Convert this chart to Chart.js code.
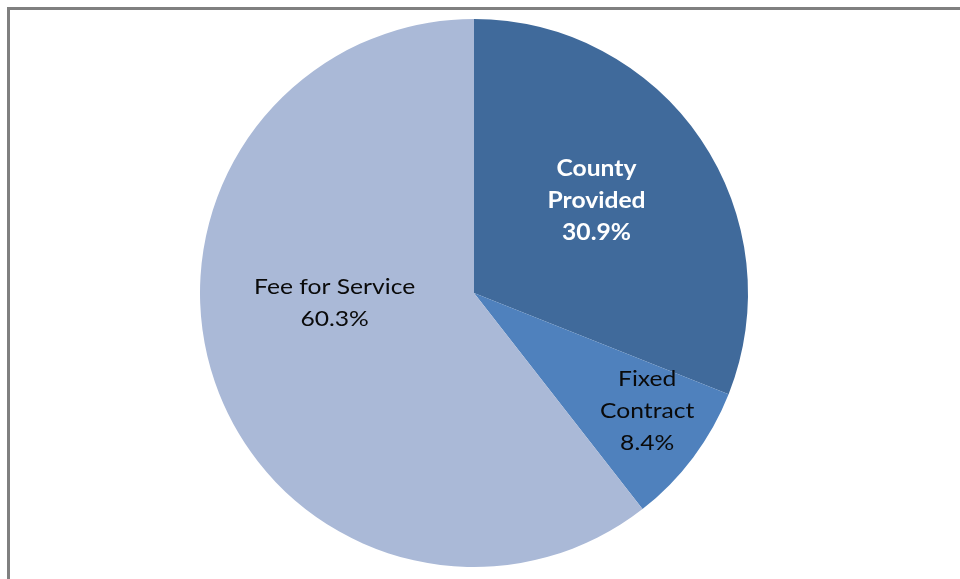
<!DOCTYPE html>
<html>
<head>
<meta charset="utf-8">
<script src="https://cdn.jsdelivr.net/npm/chart.js@4/dist/chart.umd.min.js"></script>
<style>
html,body{margin:0;padding:0;background:#fff;}
#wrap{width:960px;height:579px;}
</style>
</head>
<body>
<div id="wrap"><canvas id="c" width="960" height="579"></canvas></div>
<script>
const categories = ['County Provided', 'Fixed Contract', 'Fee for Service'];
const labelLines = [['County', 'Provided'], ['Fixed', 'Contract'], ['Fee for Service']];
const shares = [30.9, 8.4, 60.3];
const sliceColors = ['#406A9B', '#4F81BD', '#AAB9D7'];
const labelColors = ['#FFFFFF', '#0A0A0A', '#0A0A0A'];
const labelWeights = ['bold', 'normal', 'normal'];

const framePlugin = {
  id: 'frame',
  beforeDraw(chart) {
    const ctx = chart.ctx;
    ctx.save();
    ctx.fillStyle = '#fff';
    ctx.fillRect(0, 0, chart.width, chart.height);
    ctx.strokeStyle = '#808080';
    ctx.lineWidth = 3;
    ctx.strokeRect(8.5, 8.5, chart.width + 20, chart.height + 20);
    ctx.restore();
  }
};

const labelPlugin = {
  id: 'sliceLabels',
  afterDatasetsDraw(chart, args, opts) {
    const ctx = chart.ctx;
    const meta = chart.getDatasetMeta(0);
    meta.data.forEach((arc, i) => {
      const p = arc.getProps(['x', 'y', 'startAngle', 'endAngle', 'outerRadius'], true);
      const mid = (p.startAngle + p.endAngle) / 2 + opts.angleShift[i];
      const r = p.outerRadius * opts.radiusFrac[i];
      const cx = p.x + Math.cos(mid) * r;
      const cy = p.y + Math.sin(mid) * r;
      const lines = labelLines[i].concat([shares[i].toFixed(1) + '%']);
      const lh = 32;
      ctx.save();
      ctx.translate(cx, cy);
      ctx.scale(1.12, 1);
      ctx.font = labelWeights[i] + ' 22px Lato, "Open Sans", sans-serif';
      ctx.fillStyle = labelColors[i];
      ctx.textAlign = 'center';
      ctx.textBaseline = 'middle';
      const top = -(lines.length - 1) * lh / 2;
      lines.forEach((t, k) => ctx.fillText(t, 0, top + k * lh));
      ctx.restore();
    });
  }
};

new Chart(document.getElementById('c'), {
  type: 'pie',
  data: {
    labels: categories,
    datasets: [{
      data: shares,
      backgroundColor: sliceColors,
      borderWidth: 0
    }]
  },
  options: {
    responsive: false,
    animation: false,
    layout: { padding: { left: 200, right: 212, top: 19, bottom: 12 } },
    plugins: {
      legend: { display: false },
      tooltip: { enabled: false },
      sliceLabels: {
        radiusFrac: [0.56, 0.765, 0.51],
        angleShift: [-0.05, -0.045, 0.257]
      }
    }
  },
  plugins: [framePlugin, labelPlugin]
});
</script>
</body>
</html>
